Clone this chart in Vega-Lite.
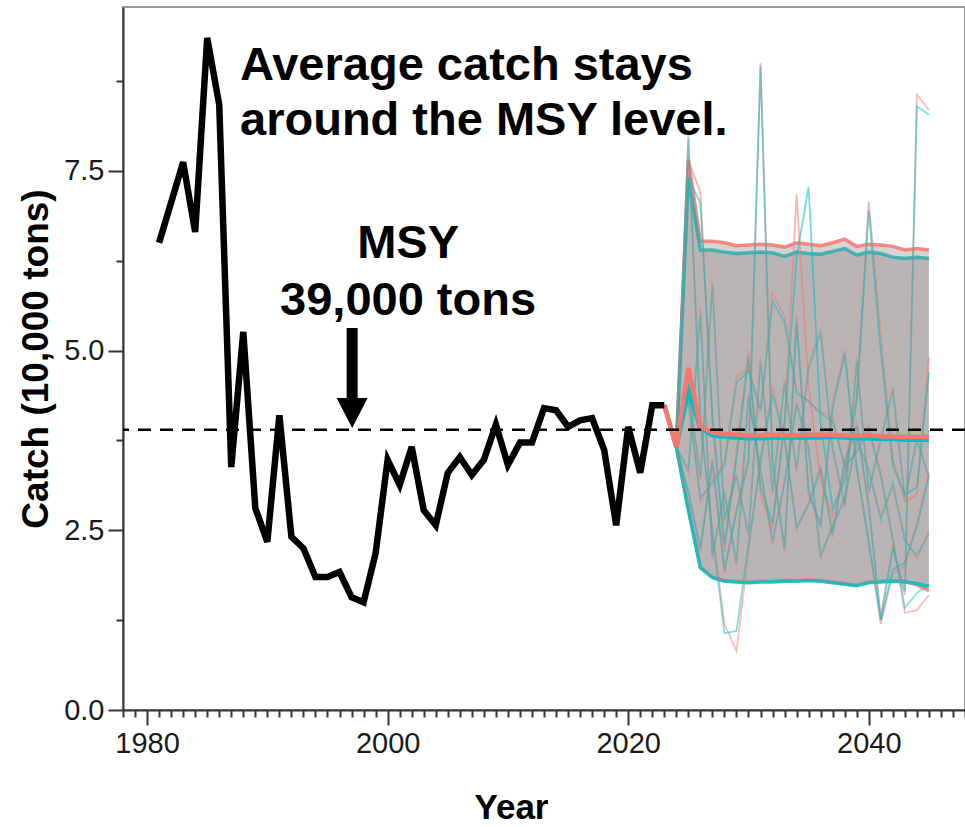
{
  "$schema": "https://vega.github.io/schema/vega-lite/v6.json",
  "width": 842,
  "height": 703,
  "autosize": {"type": "none"},
  "padding": {"left": 123, "top": 7, "right": 0, "bottom": 117},
  "background": "white",
  "config": {
    "view": {"stroke": "#999", "strokeWidth": 2},
    "font": "Liberation Sans"
  },
  "datasets": {
    "hist": [
      {"year": 1981, "c": 6.50}, {"year": 1982, "c": 7.06}, {"year": 1983, "c": 7.62}, {"year": 1984, "c": 6.65},
      {"year": 1985, "c": 9.35}, {"year": 1986, "c": 8.42}, {"year": 1987, "c": 3.38}, {"year": 1988, "c": 5.26},
      {"year": 1989, "c": 2.81}, {"year": 1990, "c": 2.34}, {"year": 1991, "c": 4.10}, {"year": 1992, "c": 2.41},
      {"year": 1993, "c": 2.25}, {"year": 1994, "c": 1.85}, {"year": 1995, "c": 1.85}, {"year": 1996, "c": 1.92},
      {"year": 1997, "c": 1.57}, {"year": 1998, "c": 1.50}, {"year": 1999, "c": 2.18}, {"year": 2000, "c": 3.48},
      {"year": 2001, "c": 3.13}, {"year": 2002, "c": 3.66}, {"year": 2003, "c": 2.78}, {"year": 2004, "c": 2.57},
      {"year": 2005, "c": 3.30}, {"year": 2006, "c": 3.52}, {"year": 2007, "c": 3.27}, {"year": 2008, "c": 3.48},
      {"year": 2009, "c": 3.97}, {"year": 2010, "c": 3.41}, {"year": 2011, "c": 3.72}, {"year": 2012, "c": 3.72},
      {"year": 2013, "c": 4.20}, {"year": 2014, "c": 4.17}, {"year": 2015, "c": 3.94}, {"year": 2016, "c": 4.03},
      {"year": 2017, "c": 4.06}, {"year": 2018, "c": 3.62}, {"year": 2019, "c": 2.57}, {"year": 2020, "c": 3.94},
      {"year": 2021, "c": 3.30}, {"year": 2022, "c": 4.24}, {"year": 2023, "c": 4.24}
    ],
    "band": [
      {"year": 2024, "rlo": 3.66, "rhi": 3.66, "tlo": 3.66, "thi": 3.66},
      {"year": 2025, "rlo": 2.80, "rhi": 7.65, "tlo": 2.78, "thi": 7.40},
      {"year": 2026, "rlo": 1.99, "rhi": 6.52, "tlo": 1.98, "thi": 6.40},
      {"year": 2027, "rlo": 1.85, "rhi": 6.52, "tlo": 1.84, "thi": 6.40},
      {"year": 2028, "rlo": 1.80, "rhi": 6.50, "tlo": 1.79, "thi": 6.37},
      {"year": 2029, "rlo": 1.79, "rhi": 6.46, "tlo": 1.78, "thi": 6.35},
      {"year": 2030, "rlo": 1.78, "rhi": 6.47, "tlo": 1.77, "thi": 6.36},
      {"year": 2031, "rlo": 1.79, "rhi": 6.48, "tlo": 1.78, "thi": 6.37},
      {"year": 2032, "rlo": 1.79, "rhi": 6.47, "tlo": 1.78, "thi": 6.36},
      {"year": 2033, "rlo": 1.80, "rhi": 6.44, "tlo": 1.79, "thi": 6.31},
      {"year": 2034, "rlo": 1.80, "rhi": 6.50, "tlo": 1.79, "thi": 6.37},
      {"year": 2035, "rlo": 1.81, "rhi": 6.48, "tlo": 1.80, "thi": 6.35},
      {"year": 2036, "rlo": 1.80, "rhi": 6.46, "tlo": 1.79, "thi": 6.34},
      {"year": 2037, "rlo": 1.78, "rhi": 6.50, "tlo": 1.77, "thi": 6.38},
      {"year": 2038, "rlo": 1.76, "rhi": 6.55, "tlo": 1.75, "thi": 6.42},
      {"year": 2039, "rlo": 1.74, "rhi": 6.45, "tlo": 1.73, "thi": 6.33},
      {"year": 2040, "rlo": 1.78, "rhi": 6.48, "tlo": 1.77, "thi": 6.37},
      {"year": 2041, "rlo": 1.79, "rhi": 6.47, "tlo": 1.78, "thi": 6.35},
      {"year": 2042, "rlo": 1.80, "rhi": 6.45, "tlo": 1.79, "thi": 6.30},
      {"year": 2043, "rlo": 1.79, "rhi": 6.40, "tlo": 1.78, "thi": 6.28},
      {"year": 2044, "rlo": 1.74, "rhi": 6.42, "tlo": 1.76, "thi": 6.30},
      {"year": 2045, "rlo": 1.66, "rhi": 6.40, "tlo": 1.72, "thi": 6.28}
    ],
    "med": [
      {"year": 2023, "r": 4.24, "t": 4.24},
      {"year": 2024, "r": 3.66, "t": 3.66},
      {"year": 2025, "r": 4.76, "t": 4.45},
      {"year": 2026, "r": 3.94, "t": 3.92},
      {"year": 2027, "r": 3.86, "t": 3.82},
      {"year": 2028, "r": 3.84, "t": 3.80},
      {"year": 2029, "r": 3.83, "t": 3.79},
      {"year": 2030, "r": 3.82, "t": 3.78},
      {"year": 2031, "r": 3.82, "t": 3.78},
      {"year": 2032, "r": 3.83, "t": 3.79},
      {"year": 2033, "r": 3.82, "t": 3.79},
      {"year": 2034, "r": 3.82, "t": 3.79},
      {"year": 2035, "r": 3.83, "t": 3.79},
      {"year": 2036, "r": 3.83, "t": 3.79},
      {"year": 2037, "r": 3.83, "t": 3.80},
      {"year": 2038, "r": 3.82, "t": 3.79},
      {"year": 2039, "r": 3.82, "t": 3.78},
      {"year": 2040, "r": 3.82, "t": 3.78},
      {"year": 2041, "r": 3.81, "t": 3.77},
      {"year": 2042, "r": 3.80, "t": 3.77},
      {"year": 2043, "r": 3.80, "t": 3.76},
      {"year": 2044, "r": 3.80, "t": 3.76},
      {"year": 2045, "r": 3.80, "t": 3.76}
    ],
    "sims": [
      {"s": "A", "year": 2024, "r": 3.66, "t": 3.66}, {"s": "A", "year": 2025, "r": 7.65, "t": 7.40},
      {"s": "A", "year": 2026, "r": 7.20, "t": 7.05}, {"s": "A", "year": 2027, "r": 4.00, "t": 4.10},
      {"s": "A", "year": 2028, "r": 2.20, "t": 2.30}, {"s": "A", "year": 2029, "r": 3.60, "t": 3.50},
      {"s": "A", "year": 2030, "r": 5.00, "t": 4.90}, {"s": "A", "year": 2031, "r": 3.00, "t": 3.10},
      {"s": "A", "year": 2032, "r": 2.50, "t": 2.60}, {"s": "A", "year": 2033, "r": 4.00, "t": 4.00},
      {"s": "A", "year": 2034, "r": 7.17, "t": 6.30}, {"s": "A", "year": 2035, "r": 4.50, "t": 7.28},
      {"s": "A", "year": 2036, "r": 3.20, "t": 4.00}, {"s": "A", "year": 2037, "r": 2.70, "t": 2.80},
      {"s": "A", "year": 2038, "r": 3.30, "t": 3.20}, {"s": "A", "year": 2039, "r": 4.40, "t": 4.30},
      {"s": "A", "year": 2040, "r": 7.07, "t": 6.95}, {"s": "A", "year": 2041, "r": 5.20, "t": 5.00},
      {"s": "A", "year": 2042, "r": 3.50, "t": 3.40}, {"s": "A", "year": 2043, "r": 2.90, "t": 3.00},
      {"s": "A", "year": 2044, "r": 3.00, "t": 3.10}, {"s": "A", "year": 2045, "r": 4.90, "t": 4.70},

      {"s": "B", "year": 2024, "r": 3.66, "t": 3.66}, {"s": "B", "year": 2025, "r": 3.00, "t": 3.05},
      {"s": "B", "year": 2026, "r": 2.20, "t": 2.25}, {"s": "B", "year": 2027, "r": 3.50, "t": 3.45},
      {"s": "B", "year": 2028, "r": 1.90, "t": 1.95}, {"s": "B", "year": 2029, "r": 2.80, "t": 2.75},
      {"s": "B", "year": 2030, "r": 3.50, "t": 3.45}, {"s": "B", "year": 2031, "r": 9.00, "t": 8.95},
      {"s": "B", "year": 2032, "r": 3.50, "t": 3.40}, {"s": "B", "year": 2033, "r": 2.20, "t": 2.25},
      {"s": "B", "year": 2034, "r": 5.50, "t": 5.40}, {"s": "B", "year": 2035, "r": 3.00, "t": 3.05},
      {"s": "B", "year": 2036, "r": 2.60, "t": 2.55}, {"s": "B", "year": 2037, "r": 4.30, "t": 4.20},
      {"s": "B", "year": 2038, "r": 5.00, "t": 4.95}, {"s": "B", "year": 2039, "r": 3.40, "t": 3.35},
      {"s": "B", "year": 2040, "r": 2.30, "t": 2.35}, {"s": "B", "year": 2041, "r": 1.20, "t": 1.25},
      {"s": "B", "year": 2042, "r": 1.90, "t": 1.95}, {"s": "B", "year": 2043, "r": 2.00, "t": 2.05},
      {"s": "B", "year": 2044, "r": 2.60, "t": 2.55}, {"s": "B", "year": 2045, "r": 3.30, "t": 3.25},

      {"s": "C", "year": 2024, "r": 3.66, "t": 3.66}, {"s": "C", "year": 2025, "r": 8.00, "t": 7.95},
      {"s": "C", "year": 2026, "r": 4.00, "t": 4.05}, {"s": "C", "year": 2027, "r": 2.50, "t": 2.45},
      {"s": "C", "year": 2028, "r": 1.20, "t": 1.07}, {"s": "C", "year": 2029, "r": 0.82, "t": 1.10},
      {"s": "C", "year": 2030, "r": 2.20, "t": 2.30}, {"s": "C", "year": 2031, "r": 3.50, "t": 3.45},
      {"s": "C", "year": 2032, "r": 4.50, "t": 4.40}, {"s": "C", "year": 2033, "r": 3.80, "t": 3.75},
      {"s": "C", "year": 2034, "r": 2.50, "t": 2.55}, {"s": "C", "year": 2035, "r": 2.90, "t": 2.85},
      {"s": "C", "year": 2036, "r": 3.40, "t": 3.35}, {"s": "C", "year": 2037, "r": 2.40, "t": 2.45},
      {"s": "C", "year": 2038, "r": 3.50, "t": 3.45}, {"s": "C", "year": 2039, "r": 4.00, "t": 3.95},
      {"s": "C", "year": 2040, "r": 2.80, "t": 2.85}, {"s": "C", "year": 2041, "r": 1.30, "t": 1.25},
      {"s": "C", "year": 2042, "r": 2.30, "t": 2.25}, {"s": "C", "year": 2043, "r": 1.60, "t": 1.65},
      {"s": "C", "year": 2044, "r": 8.56, "t": 8.40}, {"s": "C", "year": 2045, "r": 8.35, "t": 8.28},

      {"s": "D", "year": 2024, "r": 3.66, "t": 3.66}, {"s": "D", "year": 2025, "r": 4.40, "t": 4.30},
      {"s": "D", "year": 2026, "r": 2.90, "t": 2.95}, {"s": "D", "year": 2027, "r": 3.20, "t": 3.15},
      {"s": "D", "year": 2028, "r": 3.44, "t": 3.40}, {"s": "D", "year": 2029, "r": 4.63, "t": 4.55},
      {"s": "D", "year": 2030, "r": 4.77, "t": 4.72}, {"s": "D", "year": 2031, "r": 4.15, "t": 4.18},
      {"s": "D", "year": 2032, "r": 5.80, "t": 5.68}, {"s": "D", "year": 2033, "r": 5.47, "t": 5.40},
      {"s": "D", "year": 2034, "r": 4.45, "t": 4.40}, {"s": "D", "year": 2035, "r": 4.28, "t": 4.30},
      {"s": "D", "year": 2036, "r": 4.15, "t": 4.12}, {"s": "D", "year": 2037, "r": 4.08, "t": 4.02},
      {"s": "D", "year": 2038, "r": 3.37, "t": 3.40}, {"s": "D", "year": 2039, "r": 3.62, "t": 3.58},
      {"s": "D", "year": 2040, "r": 3.95, "t": 3.90}, {"s": "D", "year": 2041, "r": 3.30, "t": 3.25},
      {"s": "D", "year": 2042, "r": 2.40, "t": 2.35}, {"s": "D", "year": 2043, "r": 1.35, "t": 1.42},
      {"s": "D", "year": 2044, "r": 1.39, "t": 1.63}, {"s": "D", "year": 2045, "r": 1.60, "t": 1.75},

      {"s": "E", "year": 2024, "r": 3.66, "t": 3.66}, {"s": "E", "year": 2025, "r": 3.30, "t": 3.35},
      {"s": "E", "year": 2026, "r": 5.60, "t": 5.50}, {"s": "E", "year": 2027, "r": 2.10, "t": 2.15},
      {"s": "E", "year": 2028, "r": 3.00, "t": 3.05}, {"s": "E", "year": 2029, "r": 2.00, "t": 2.05},
      {"s": "E", "year": 2030, "r": 4.40, "t": 4.35}, {"s": "E", "year": 2031, "r": 3.30, "t": 3.35},
      {"s": "E", "year": 2032, "r": 2.30, "t": 2.35}, {"s": "E", "year": 2033, "r": 3.20, "t": 3.15},
      {"s": "E", "year": 2034, "r": 4.30, "t": 4.25}, {"s": "E", "year": 2035, "r": 3.60, "t": 3.65},
      {"s": "E", "year": 2036, "r": 2.10, "t": 2.15}, {"s": "E", "year": 2037, "r": 2.60, "t": 2.55},
      {"s": "E", "year": 2038, "r": 2.90, "t": 2.95}, {"s": "E", "year": 2039, "r": 3.80, "t": 3.75},
      {"s": "E", "year": 2040, "r": 3.30, "t": 3.35}, {"s": "E", "year": 2041, "r": 2.70, "t": 2.65},
      {"s": "E", "year": 2042, "r": 3.10, "t": 3.15}, {"s": "E", "year": 2043, "r": 2.40, "t": 2.35},
      {"s": "E", "year": 2044, "r": 2.10, "t": 2.15}, {"s": "E", "year": 2045, "r": 2.50, "t": 2.45},

      {"s": "F", "year": 2024, "r": 3.66, "t": 3.66}, {"s": "F", "year": 2025, "r": 4.50, "t": 4.45},
      {"s": "F", "year": 2026, "r": 3.20, "t": 3.25}, {"s": "F", "year": 2027, "r": 6.00, "t": 5.90},
      {"s": "F", "year": 2028, "r": 2.60, "t": 2.65}, {"s": "F", "year": 2029, "r": 3.30, "t": 3.25},
      {"s": "F", "year": 2030, "r": 2.40, "t": 2.45}, {"s": "F", "year": 2031, "r": 4.90, "t": 4.85},
      {"s": "F", "year": 2032, "r": 3.00, "t": 3.05}, {"s": "F", "year": 2033, "r": 4.60, "t": 4.55},
      {"s": "F", "year": 2034, "r": 3.30, "t": 3.35}, {"s": "F", "year": 2035, "r": 4.80, "t": 4.75},
      {"s": "F", "year": 2036, "r": 5.30, "t": 5.25}, {"s": "F", "year": 2037, "r": 3.60, "t": 3.65},
      {"s": "F", "year": 2038, "r": 2.80, "t": 2.85}, {"s": "F", "year": 2039, "r": 4.90, "t": 4.85},
      {"s": "F", "year": 2040, "r": 3.00, "t": 3.05}, {"s": "F", "year": 2041, "r": 3.80, "t": 3.75},
      {"s": "F", "year": 2042, "r": 4.50, "t": 4.45}, {"s": "F", "year": 2043, "r": 2.90, "t": 2.95},
      {"s": "F", "year": 2044, "r": 3.80, "t": 3.75}, {"s": "F", "year": 2045, "r": 3.20, "t": 3.25}
    ],
    "msy": [{"msy": 3.9}],
    "arrow": [{"year": 1997.05, "v": 4.62}],
    "notes_left": [
      {"year": 1987.73, "v": 8.766, "label": "Average catch stays"},
      {"year": 1987.73, "v": 8.0, "label": "around the MSY level."}
    ],
    "notes_center": [
      {"year": 2001.7, "v": 6.29, "label": "MSY"},
      {"year": 2001.7, "v": 5.50, "label": "39,000 tons"}
    ]
  },
  "layer": [
    {
      "data": {"name": "band"},
      "mark": {"type": "area", "fill": "#796e6c", "opacity": 0.3},
      "encoding": {
        "x": {
          "field": "year", "type": "quantitative",
          "scale": {"domain": [1978, 2048], "nice": false, "zero": false},
          "axis": {
            "values": [1978,1979,1980,1981,1982,1983,1984,1985,1986,1987,1988,1989,1990,1991,1992,1993,1994,1995,1996,1997,1998,1999,2000,2001,2002,2003,2004,2005,2006,2007,2008,2009,2010,2011,2012,2013,2014,2015,2016,2017,2018,2019,2020,2021,2022,2023,2024,2025,2026,2027,2028,2029,2030,2031,2032,2033,2034,2035,2036,2037,2038,2039,2040,2041,2042,2043,2044,2045,2046,2047,2048],
            "tickCount": 200,
            "labelExpr": "datum.value % 20 === 0 ? datum.label : ''",
            "format": "d",
            "tickSize": {"condition": {"test": "datum.value % 20 === 0", "value": 15}, "value": 7},
            "tickWidth": 2, "tickColor": "#333",
            "domainColor": "#333", "domainWidth": 2,
            "labelFont": "Liberation Sans", "labelFontSize": 29, "labelColor": "#1a1a1a",
            "labelPadding": 4, "labelOverlap": false, "labelFlush": false, "labelBaseline": "top",
            "grid": false,
            "title": "Year", "titleFont": "Liberation Sans", "titleFontSize": 35, "titleFontWeight": "bold", "titleColor": "#000",
            "titleX": 388, "titleY": 108, "titleBaseline": "alphabetic", "titleAlign": "center"
          }
        },
        "y": {
          "field": "rlo", "type": "quantitative",
          "scale": {"domain": [0, 9.78], "nice": false, "zero": true},
          "axis": {
            "values": [0, 1.25, 2.5, 3.75, 5, 6.25, 7.5, 8.75],
            "tickCount": 50,
            "labelExpr": "datum.value % 2.5 === 0 ? format(datum.value, '.1f') : ''",
            "tickSize": {"condition": {"test": "datum.value % 2.5 === 0", "value": 15}, "value": 7},
            "tickWidth": 2, "tickColor": "#333",
            "domainColor": "#333", "domainWidth": 2,
            "labelFont": "Liberation Sans", "labelFontSize": 29, "labelColor": "#1a1a1a",
            "labelPadding": 4, "labelOverlap": false, "labelFlush": false,
            "grid": false,
            "title": "Catch (10,000 tons)", "titleFont": "Liberation Sans", "titleFontSize": 37, "titleFontWeight": "bold", "titleColor": "#000",
            "titlePadding": 8
          }
        },
        "y2": {"field": "rhi"}
      }
    },
    {
      "data": {"name": "band"},
      "mark": {"type": "area", "fill": "#796e6c", "opacity": 0.3},
      "encoding": {
        "x": {"field": "year", "type": "quantitative"},
        "y": {"field": "tlo", "type": "quantitative"},
        "y2": {"field": "thi"}
      }
    },
    {
      "data": {"name": "band"},
      "mark": {"type": "line", "color": "#F8766D", "strokeWidth": 3.5, "opacity": 0.85},
      "encoding": {
        "x": {"field": "year", "type": "quantitative"},
        "y": {"field": "rhi", "type": "quantitative"}
      }
    },
    {
      "data": {"name": "band"},
      "mark": {"type": "line", "color": "#F8766D", "strokeWidth": 3.5, "opacity": 0.8},
      "encoding": {
        "x": {"field": "year", "type": "quantitative"},
        "y": {"field": "rlo", "type": "quantitative"}
      }
    },
    {
      "data": {"name": "band"},
      "mark": {"type": "line", "color": "#1aa9ad", "strokeWidth": 3.5, "opacity": 0.75},
      "encoding": {
        "x": {"field": "year", "type": "quantitative"},
        "y": {"field": "thi", "type": "quantitative"}
      }
    },
    {
      "data": {"name": "band"},
      "mark": {"type": "line", "color": "#00BFC4", "strokeWidth": 3.5, "opacity": 0.85},
      "encoding": {
        "x": {"field": "year", "type": "quantitative"},
        "y": {"field": "tlo", "type": "quantitative"}
      }
    },
    {
      "data": {"name": "sims"},
      "transform": [{"fold": ["r", "t"], "as": ["scen", "v"]}],
      "mark": {"type": "line", "strokeWidth": 1.8},
      "encoding": {
        "x": {"field": "year", "type": "quantitative"},
        "y": {"field": "v", "type": "quantitative"},
        "color": {"field": "scen", "type": "nominal", "scale": {"domain": ["r", "t"], "range": ["#F8766D", "#00BFC4"]}, "legend": null},
        "detail": {"field": "s"},
        "opacity": {"field": "s", "type": "nominal", "scale": {"domain": ["A", "B", "C", "D", "E", "F"], "range": [0.55, 0.4, 0.18, 0.85, 0.3, 0.28]}, "legend": null}
      }
    },
    {
      "data": {"name": "med"},
      "mark": {"type": "line", "strokeWidth": 4.5, "color": "#00BFC4"},
      "encoding": {
        "x": {"field": "year", "type": "quantitative"},
        "y": {"field": "t", "type": "quantitative"}
      }
    },
    {
      "data": {"name": "med"},
      "mark": {"type": "line", "strokeWidth": 4.5, "color": "#F8766D"},
      "encoding": {
        "x": {"field": "year", "type": "quantitative"},
        "y": {"field": "r", "type": "quantitative"}
      }
    },
    {
      "data": {"name": "hist"},
      "mark": {"type": "line", "color": "#000", "strokeWidth": 6.5, "strokeJoin": "miter", "strokeCap": "butt"},
      "encoding": {
        "x": {"field": "year", "type": "quantitative"},
        "y": {"field": "c", "type": "quantitative"}
      }
    },
    {
      "data": {"name": "msy"},
      "mark": {"type": "rule", "color": "#000", "strokeWidth": 2.5, "strokeDash": [13, 9]},
      "encoding": {
        "y": {"field": "msy", "type": "quantitative"}
      }
    },
    {
      "data": {"name": "arrow"},
      "mark": {"type": "point", "shape": "M-0.355,-3.226L0.355,-3.226L0.355,1.29L1,1.29L0,3.226L-1,1.29L-0.355,1.29Z", "size": 961, "filled": true, "color": "#000", "opacity": 1, "strokeWidth": 0},
      "encoding": {
        "x": {"field": "year", "type": "quantitative"},
        "y": {"field": "v", "type": "quantitative"}
      }
    },
    {
      "data": {"name": "notes_left"},
      "mark": {"type": "text", "align": "left", "baseline": "alphabetic", "font": "Liberation Sans", "fontSize": 47, "fontWeight": "bold", "color": "#000"},
      "encoding": {
        "x": {"field": "year", "type": "quantitative"},
        "y": {"field": "v", "type": "quantitative"},
        "text": {"field": "label"}
      }
    },
    {
      "data": {"name": "notes_center"},
      "mark": {"type": "text", "align": "center", "baseline": "alphabetic", "font": "Liberation Sans", "fontSize": 47, "fontWeight": "bold", "color": "#000"},
      "encoding": {
        "x": {"field": "year", "type": "quantitative"},
        "y": {"field": "v", "type": "quantitative"},
        "text": {"field": "label"}
      }
    }
  ]
}
